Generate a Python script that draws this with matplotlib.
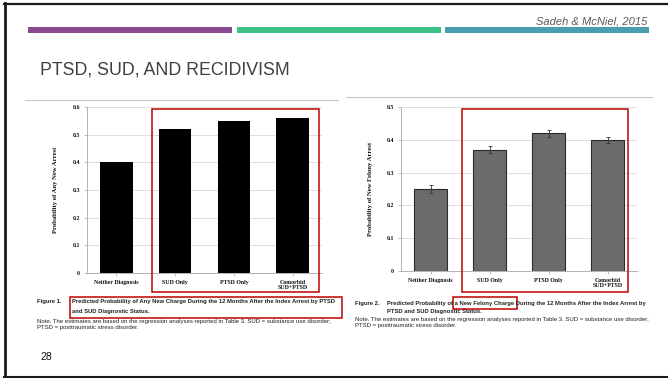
import matplotlib
matplotlib.use("Agg")
import matplotlib.pyplot as plt
from matplotlib.patches import Rectangle
from matplotlib.lines import Line2D

# bar chart data
categories = ["Neither Diagnosis", "SUD Only", "PTSD Only", "Comorbid\nSUD+PTSD"]
any_arrest = [0.40, 0.52, 0.55, 0.56]
felony_arrest = [0.25, 0.37, 0.42, 0.40]
felony_err = [0.011, 0.010, 0.010, 0.010]
any_ticks = [0, 0.1, 0.2, 0.3, 0.4, 0.5, 0.6]
felony_ticks = [0, 0.1, 0.2, 0.3, 0.4, 0.5]

W, H = 668, 378
SANS = "Liberation Sans"
SERIF = "Liberation Serif"
RED = "#c00000"


def rect(x0, y0, x1, y1):
    # pixel box (top-left origin) -> figure fraction
    return [x0 / W, 1 - y1 / H, (x1 - x0) / W, (y1 - y0) / H]


def fx(x):
    return x / W


def fy(y):
    return 1 - y / H


def box(fig, x0, y0, x1, y1, **kw):
    fig.add_artist(Rectangle((fx(x0), fy(y1)), (x1 - x0) / W, (y1 - y0) / H,
                             transform=fig.transFigure, **kw))


def hline(fig, x0, x1, y, **kw):
    fig.add_artist(Line2D([fx(x0), fx(x1)], [fy(y), fy(y)],
                          transform=fig.transFigure, **kw))


def style_axes(ax, ticks, label, label_x):
    ax.set_xlim(-0.5, len(categories) - 0.5)
    ax.set_ylim(ticks[0], ticks[-1])
    ax.set_yticks(ticks)
    ax.set_yticklabels(["0" if t == 0 else f"{t:.1f}" for t in ticks])
    ax.set_xticks(range(len(categories)))
    ax.set_xticklabels(categories, linespacing=0.9)
    ax.grid(axis="y", color="#d9d9d9", lw=0.6)
    ax.set_axisbelow(True)
    for side in ["top", "right"]:
        ax.spines[side].set_visible(False)
    for side in ["left", "bottom"]:
        ax.spines[side].set_color("#a6a6a6")
        ax.spines[side].set_linewidth(0.6)
    ax.tick_params(length=2, width=0.5, color="#a6a6a6", pad=3,
                   labelsize=4.2, labelcolor="#111111")
    for t in ax.get_xticklabels() + ax.get_yticklabels():
        t.set_family(SERIF)
        t.set_fontweight("bold")
    ax.set_ylabel(label, family=SERIF, fontweight="bold", fontsize=4.8,
                  color="#111111")
    ax.yaxis.set_label_coords(label_x, 0.5)


fig = plt.figure(figsize=(W / 100, H / 100), dpi=100)

# slide frame
fig.add_artist(Line2D([fx(5), fx(5)], [fy(3), fy(376)], transform=fig.transFigure,
                      color="#1a1a1a", lw=2.0))
hline(fig, 4, 668, 3.5, color="#1a1a1a", lw=1.6)
hline(fig, 4, 668, 376.5, color="#1a1a1a", lw=2.2)

# coloured header bars
box(fig, 28, 27, 232, 33, color="#8a4a8e", lw=0)
box(fig, 237, 27, 441, 33, color="#3fc28a", lw=0)
box(fig, 445, 27, 649, 33, color="#4a9eaf", lw=0)

fig.text(fx(647), fy(21), "Sadeh & McNiel, 2015", ha="right", va="center",
         family=SANS, style="italic", fontsize=8, color="#595959")
fig.text(fx(40), fy(70), "PTSD, SUD, AND RECIDIVISM", ha="left", va="center",
         family=SANS, fontsize=12.8, color="#404040")
fig.text(fx(40), fy(357), "28", ha="left", va="center", family=SANS,
         fontsize=7.5, color="#111111")

# thin rules at the top of each figure image
hline(fig, 25, 338, 100, color="#c8c8c8", lw=0.8)
hline(fig, 346, 652, 97, color="#c8c8c8", lw=0.8)

# figure 1: any new arrest
axL = fig.add_axes(rect(87, 107, 322, 273))
axL.bar(range(len(categories)), any_arrest, width=0.55, color="black")
style_axes(axL, any_ticks, "Probability of Any New Arrest", -29 / 235)

# figure 2: new felony arrest
axR = fig.add_axes(rect(401, 107, 637, 271))
axR.bar(range(len(categories)), felony_arrest, width=0.55, color="#6b6b6b",
        edgecolor="#2b2b2b", lw=0.8, yerr=felony_err, ecolor="#333333",
        error_kw=dict(lw=0.6, capsize=1.2, capthick=0.6))
style_axes(axR, felony_ticks, "Probability of New Felony Arrest", -28 / 236)

# highlight boxes around the diagnosis groups
box(fig, 152, 109, 319, 292, fill=False, edgecolor=RED, lw=1.1)
box(fig, 462, 109, 628, 292, fill=False, edgecolor=RED, lw=1.1)

# captions
cap = dict(family=SANS, fontsize=4.2, fontweight="bold", color="#222222",
           ha="left", va="center")
note = dict(family=SANS, fontsize=4.35, color="#222222", ha="left", va="center")
fig.text(fx(37), fy(302), "Figure 1.", **cap)
fig.text(fx(72), fy(302), "Predicted Probability of Any New Charge During the 12 Months "
         "After the Index Arrest by PTSD", **cap)
fig.text(fx(72), fy(311), "and SUD Diagnostic Status.", **cap)
fig.text(fx(37), fy(321), "Note. The estimates are based on the regression analyses "
         "reported in Table 3. SUD = substance use disorder;", **note)
fig.text(fx(37), fy(327), "PTSD = posttraumatic stress disorder.", **note)
box(fig, 70, 297, 342, 318, fill=False, edgecolor=RED, lw=1.1)

fig.text(fx(355), fy(303), "Figure 2.", **cap)
fig.text(fx(387), fy(303), "Predicted Probability of a New Felony Charge During the 12 "
         "Months After the Index Arrest by", **cap)
fig.text(fx(387), fy(311), "PTSD and SUD Diagnostic Status.", **cap)
fig.text(fx(355), fy(319), "Note. The estimates are based on the regression analyses "
         "reported in Table 3. SUD = substance use disorder;", **note)
fig.text(fx(355), fy(326), "PTSD = posttraumatic stress disorder.", **note)
box(fig, 453, 297, 517, 309, fill=False, edgecolor=RED, lw=1.1)

fig.savefig("out.png", dpi=100)
